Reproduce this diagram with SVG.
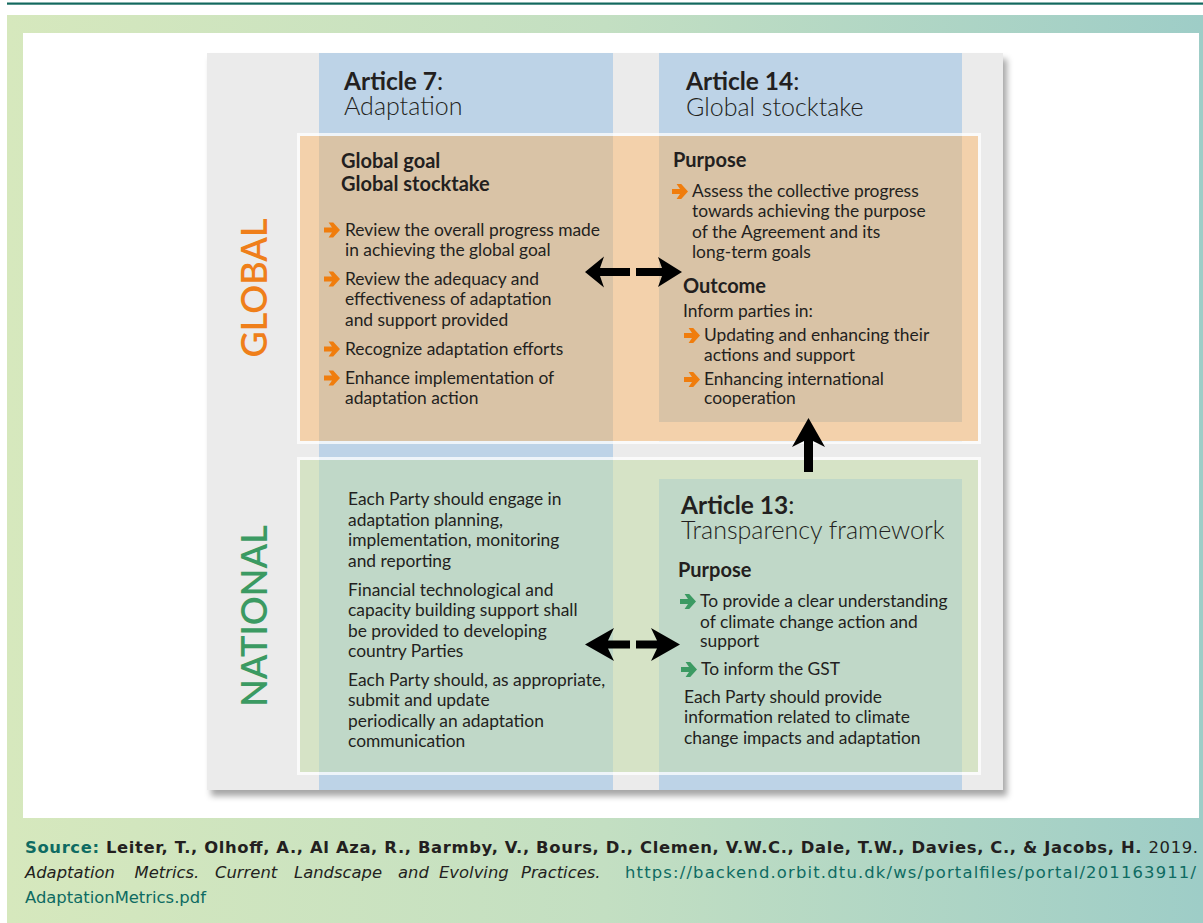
<svg xmlns="http://www.w3.org/2000/svg" xmlns:xlink="http://www.w3.org/1999/xlink" width="1203" height="923" viewBox="0 0 1203 923">
<defs>
<linearGradient id="bg" x1="0" y1="0" x2="1" y2="0">
<stop offset="0" stop-color="#d6e8bd"/>
<stop offset="0.5" stop-color="#c3dfc2"/>
<stop offset="1" stop-color="#9ecdc7"/>
</linearGradient>
<filter id="sh" x="-5%" y="-5%" width="112%" height="112%">
<feDropShadow dx="4" dy="6" stdDeviation="3" flood-color="#000" flood-opacity="0.35"/>
</filter>
<path id="bul" d="M0,-2.6 H8 L4.6,-7.6 H9.2 L16,0 L9.2,7.6 H4.6 L8,2.6 H0 Z"/>
<style>
text{font-family:Lato,"Liberation Sans",sans-serif;fill:#231f20}
.hd{font-size:24.5px}
.hdl{font-size:25px;font-weight:300}
.b{font-size:17.4px}
.t{font-size:20px;font-weight:bold}
.side{font-size:36px;font-weight:600}
.ft{font-family:"DejaVu Sans","Liberation Sans",sans-serif;font-size:16.4px}
.teal{fill:#0e6b62}
.ob{fill:#f07d0d}
.gb{fill:#3b9a62}
.arr{fill:#000}
.border{fill:none;stroke:#fff;stroke-width:3;stroke-opacity:0.75}
</style>
</defs>
<rect width="1203" height="923" fill="#fff"/>
<rect x="7" y="2.5" width="1196" height="2.2" fill="#13695f"/>
<rect x="7" y="15" width="1196" height="908" fill="url(#bg)"/>
<rect x="23" y="33" width="1176" height="785" fill="#fff"/>

<g id="panel">
<rect x="207" y="53" width="796" height="737" fill="#ebebeb" filter="url(#sh)"/>
<rect x="319" y="53" width="294" height="737" fill="#bdd3e7"/>
<rect x="659" y="53" width="303" height="737" fill="#bdd3e7"/>
<rect x="659" y="442" width="303" height="18" fill="#ebebeb"/>
</g>

<g id="band-global">
<rect x="300" y="136" width="678" height="305" fill="#f3d1ab"/>
<rect x="298.5" y="134.5" width="681" height="308" class="border"/>
<rect x="319" y="136" width="294" height="305" fill="#d9c3a6"/>
<rect x="659" y="136" width="303" height="286" fill="#d9c3a6"/>
</g>
<g id="band-national">
<rect x="300" y="460" width="678" height="312" fill="#d6e3c6"/>
<rect x="298.5" y="458.5" width="681" height="315" class="border"/>
<rect x="319" y="460" width="294" height="312" fill="#c0d8c8"/>
<rect x="659" y="479" width="303" height="293" fill="#c0d8c8"/>
</g>

<g id="label-global">
<text class="side" style="fill:#ef7f1a" text-anchor="middle" transform="translate(267,288) rotate(-90)">GLOBAL</text>
</g>
<g id="label-national">
<text class="side" style="fill:#3b9a62" text-anchor="middle" transform="translate(267,616) rotate(-90)">NATIONAL</text>
</g>

<g id="header-article7">
<text x="344" y="90" class="hd"><tspan font-weight="bold">Article 7</tspan>:</text>
<text x="344" y="115" class="hdl">Adaptation</text>
</g>
<g id="header-article14">
<text x="686" y="90" class="hd"><tspan font-weight="bold">Article 14</tspan>:</text>
<text x="686" y="116" class="hdl" font-size="25.5">Global stocktake</text>
</g>

<g id="global-article7">
<text x="341" y="168" class="t">Global goal</text>
<text x="341" y="191" class="t">Global stocktake</text>
<use xlink:href="#bul" x="324" y="230" class="ob"/>
<text x="345" y="236" class="b">Review the overall progress made</text>
<text x="345" y="256" class="b">in achieving the global goal</text>
<use xlink:href="#bul" x="324" y="279" class="ob"/>
<text x="345" y="285" class="b">Review the adequacy and</text>
<text x="345" y="305" class="b">effectiveness of adaptation</text>
<text x="345" y="326" class="b">and support provided</text>
<use xlink:href="#bul" x="324" y="349" class="ob"/>
<text x="345" y="355" class="b">Recognize adaptation efforts</text>
<use xlink:href="#bul" x="324" y="378" class="ob"/>
<text x="345" y="384" class="b">Enhance implementation of</text>
<text x="345" y="404" class="b">adaptation action</text>
</g>

<g id="global-article14">
<text x="673" y="167" class="t">Purpose</text>
<use xlink:href="#bul" x="672" y="191.5" class="ob"/>
<text x="692" y="197" class="b">Assess the collective progress</text>
<text x="692" y="217" class="b">towards achieving the purpose</text>
<text x="692" y="238" class="b">of the Agreement and its</text>
<text x="692" y="258" class="b">long-term goals</text>
<text x="683" y="293" class="t">Outcome</text>
<text x="683" y="317" class="b">Inform parties in:</text>
<use xlink:href="#bul" x="684" y="335.5" class="ob"/>
<text x="704" y="341" class="b">Updating and enhancing their</text>
<text x="704" y="361" class="b">actions and support</text>
<use xlink:href="#bul" x="684" y="379.5" class="ob"/>
<text x="704" y="385" class="b">Enhancing international</text>
<text x="704" y="404" class="b">cooperation</text>
</g>

<g id="national-article7">
<text x="348" y="505" class="b">Each Party should engage in</text>
<text x="348" y="526" class="b">adaptation planning,</text>
<text x="348" y="546" class="b">implementation, monitoring</text>
<text x="348" y="567" class="b">and reporting</text>
<text x="348" y="596" class="b">Financial technological and</text>
<text x="348" y="616" class="b">capacity building support shall</text>
<text x="348" y="637" class="b">be provided to developing</text>
<text x="348" y="657" class="b">country Parties</text>
<text x="348" y="686" class="b">Each Party should, as appropriate,</text>
<text x="348" y="706" class="b">submit and update</text>
<text x="348" y="727" class="b">periodically an adaptation</text>
<text x="348" y="747" class="b">communication</text>
</g>

<g id="national-article13">
<text x="681" y="514" class="hd"><tspan font-weight="bold">Article 13</tspan>:</text>
<text x="681" y="539" class="hdl" font-size="24.3">Transparency framework</text>
<text x="678" y="577" class="t">Purpose</text>
<use xlink:href="#bul" x="680" y="601.5" class="gb"/>
<text x="700" y="607" class="b">To provide a clear understanding</text>
<text x="700" y="628" class="b">of climate change action and</text>
<text x="700" y="647" class="b">support</text>
<use xlink:href="#bul" x="681" y="669.5" class="gb"/>
<text x="701" y="675" class="b">To inform the GST</text>
<text x="684" y="703" class="b">Each Party should provide</text>
<text x="684" y="723" class="b">information related to climate</text>
<text x="684" y="744" class="b">change impacts and adaptation</text>
</g>

<g id="connectors">
<path class="arr" d="M585,272 L604,256.5 L600,268 L630,268 L630,276 L600,276 L604,287.5 Z"/>
<path class="arr" d="M682,272 L658,257 L662,268 L636,268 L636,276 L662,276 L658,287 Z"/>
<path class="arr" d="M585,644.5 L614,628 L608,640.5 L630,640.5 L630,648.5 L608,648.5 L614,661 Z"/>
<path class="arr" d="M680,644.5 L651,628 L657,640.5 L636,640.5 L636,648.5 L657,648.5 L651,661 Z"/>
<path class="arr" d="M808.5,418 L825,447 L813,441 L813,472 L804,472 L804,441 L792,447 Z"/>
</g>

<g id="footer">
<text x="25" y="853" class="ft" font-weight="bold" textLength="1173" lengthAdjust="spacing"><tspan class="teal">Source:</tspan> Leiter, T., Olhoff, A., Al Aza, R., Barmby, V., Bours, D., Clemen, V.W.C., Dale, T.W., Davies, C., &amp; Jacobs, H. <tspan font-weight="normal">2019.</tspan></text>
<text y="878" class="ft" font-style="italic"><tspan x="25">Adaptation</tspan><tspan x="134.5">Metrics.</tspan><tspan x="215">Current</tspan><tspan x="294">Landscape</tspan><tspan x="398">and</tspan><tspan x="439">Evolving</tspan><tspan x="521">Practices.</tspan></text>
<text x="625" y="878" class="ft teal" textLength="571" lengthAdjust="spacing">https://backend.orbit.dtu.dk/ws/portalfiles/portal/201163911/</text>
<text x="25" y="903" class="ft teal">AdaptationMetrics.pdf</text>
</g>
</svg>
